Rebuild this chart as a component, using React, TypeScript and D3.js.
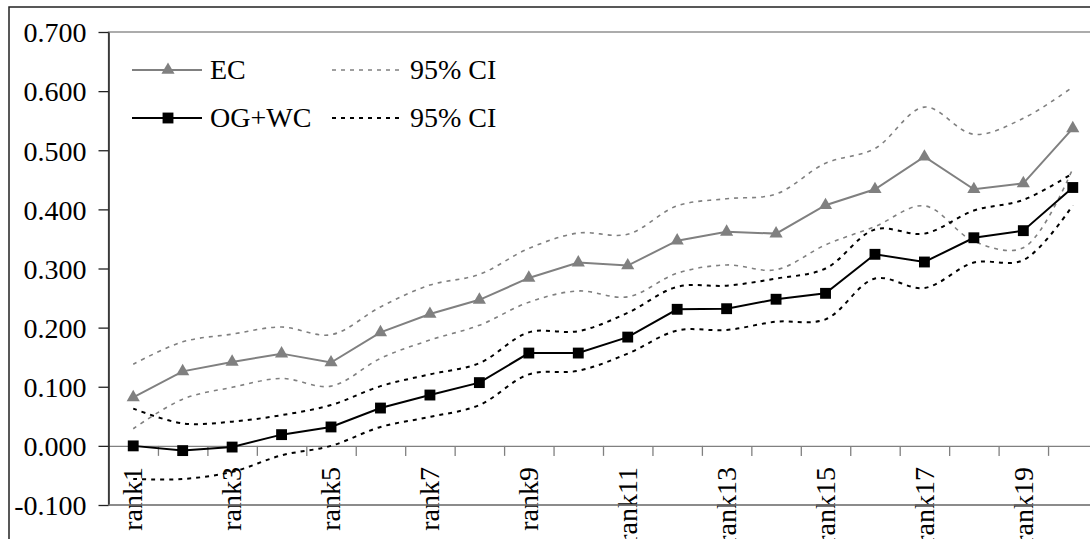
import React, { useRef, useEffect } from 'react';
import * as d3 from 'd3';

const ranks = d3.range(1, 21).map((i) => 'rank' + i);

// EC series and its 95% CI bounds
const ec = [0.082, 0.126, 0.142, 0.156, 0.141, 0.192, 0.223, 0.247, 0.284, 0.310, 0.305, 0.347, 0.362, 0.359, 0.407, 0.434, 0.489, 0.434, 0.444, 0.537];
const ecHigh = [0.138, 0.176, 0.189, 0.201, 0.188, 0.235, 0.272, 0.290, 0.334, 0.360, 0.358, 0.406, 0.418, 0.426, 0.478, 0.503, 0.573, 0.527, 0.554, 0.607];
const ecLow = [0.029, 0.079, 0.099, 0.114, 0.101, 0.148, 0.179, 0.204, 0.243, 0.262, 0.252, 0.292, 0.306, 0.298, 0.340, 0.371, 0.406, 0.346, 0.335, 0.469];

// OG+WC series and its 95% CI bounds
const ogwc = [0.000, -0.008, -0.002, 0.019, 0.032, 0.064, 0.086, 0.107, 0.157, 0.157, 0.184, 0.231, 0.232, 0.248, 0.258, 0.324, 0.311, 0.352, 0.364, 0.437];
const ogwcHigh = [0.063, 0.038, 0.041, 0.052, 0.069, 0.101, 0.121, 0.140, 0.192, 0.194, 0.225, 0.269, 0.271, 0.283, 0.300, 0.366, 0.359, 0.398, 0.416, 0.461];
const ogwcLow = [-0.056, -0.056, -0.044, -0.016, 0.000, 0.032, 0.049, 0.069, 0.121, 0.127, 0.156, 0.195, 0.196, 0.210, 0.214, 0.283, 0.267, 0.310, 0.314, 0.407];

const yTicks = [-0.1, 0, 0.1, 0.2, 0.3, 0.4, 0.5, 0.6, 0.7];
const yTickLabels = ['-0.100', '0.000', '0.100', '0.200', '0.300', '0.400', '0.500', '0.600', '0.700'];

const GRAY = '#808080';
const FONT = '"Liberation Serif", "Times New Roman", serif';

function App() {
    const svgRef = useRef(null);

    useEffect(() => {
        const svg = d3.select(svgRef.current);
        svg.selectAll('*').remove();

        const left = 108.5;
        const step = 49.45;
        const top = 32;
        const bottom = 505;

        const x = d3.scaleBand().domain(ranks).range([left, left + step * ranks.length]).padding(0);
        const xEdge = d3.scaleLinear().domain([0, ranks.length]).range([left, left + step * ranks.length]);
        const y = d3.scaleLinear().domain([-0.1, 0.7]).range([bottom, top]);
        const cx = (i) => x(ranks[i]) + x.bandwidth() / 2;

        // outer chart frame
        svg.append('rect')
            .attr('x', 9).attr('y', 7)
            .attr('width', 1100).attr('height', 560)
            .attr('fill', 'white')
            .attr('stroke', '#222').attr('stroke-width', 1.5);

        // plot area border (top / bottom / right)
        svg.append('rect')
            .attr('x', left).attr('y', top)
            .attr('width', step * ranks.length).attr('height', bottom - top)
            .attr('fill', 'none')
            .attr('stroke', GRAY).attr('stroke-width', 1.3);

        // x axis at zero with ticks between categories
        const xAxis = svg.append('g')
            .attr('transform', `translate(0,${y(0)})`)
            .call(d3.axisBottom(xEdge).tickValues(d3.range(1, ranks.length)).tickSize(10).tickSizeOuter(0).tickFormat(() => ''));
        xAxis.select('.domain').attr('stroke', GRAY).attr('stroke-width', 1.3);
        xAxis.selectAll('.tick line').attr('stroke', GRAY).attr('stroke-width', 1.3);

        // y axis
        const yAxis = svg.append('g')
            .attr('transform', `translate(${left},0)`)
            .call(d3.axisLeft(y).tickValues(yTicks).tickSize(10).tickSizeOuter(0).tickPadding(12)
                .tickFormat((d, i) => yTickLabels[i]));
        yAxis.select('.domain').attr('stroke', '#222').attr('stroke-width', 1.5);
        yAxis.selectAll('.tick line').attr('stroke', '#222').attr('stroke-width', 1.3);
        yAxis.selectAll('.tick text')
            .attr('font-family', FONT).attr('font-size', 28).attr('fill', '#000')
            .attr('dy', '0.35em');

        // category labels, every other one, rotated
        svg.append('g')
            .selectAll('text')
            .data(ranks.filter((d, i) => i % 2 === 0))
            .join('text')
            .attr('transform', (d) => `translate(${x(d) + x.bandwidth() / 2},467) rotate(-90)`)
            .attr('text-anchor', 'end')
            .attr('dy', '0.33em')
            .attr('font-family', FONT).attr('font-size', 28)
            .text((d) => d);

        // bottom border drawn over labels like the original
        svg.append('line')
            .attr('x1', left).attr('x2', left + step * ranks.length)
            .attr('y1', bottom).attr('y2', bottom)
            .attr('stroke', GRAY).attr('stroke-width', 1.3);

        const smooth = d3.line().x((d, i) => cx(i)).y((d) => y(d)).curve(d3.curveCatmullRom.alpha(0.5));
        const straight = d3.line().x((d, i) => cx(i)).y((d) => y(d));

        const ciLines = [
            { data: ecHigh, color: GRAY, w: 1.6 },
            { data: ecLow, color: GRAY, w: 1.6 },
            { data: ogwcHigh, color: '#000', w: 2 },
            { data: ogwcLow, color: '#000', w: 2 },
        ];
        ciLines.forEach((c) => {
            svg.append('path')
                .attr('d', smooth(c.data))
                .attr('fill', 'none')
                .attr('stroke', c.color).attr('stroke-width', c.w)
                .attr('stroke-dasharray', '4,5');
        });

        const tri = d3.symbol().type(d3.symbolTriangle).size(75);
        const sq = d3.symbol().type(d3.symbolSquare).size(118);

        // EC
        svg.append('path').attr('d', straight(ec)).attr('fill', 'none').attr('stroke', GRAY).attr('stroke-width', 2);
        svg.append('g').selectAll('path').data(ec).join('path')
            .attr('transform', (d, i) => `translate(${cx(i)},${y(d)})`)
            .attr('d', tri).attr('fill', GRAY);

        // OG+WC
        svg.append('path').attr('d', straight(ogwc)).attr('fill', 'none').attr('stroke', '#000').attr('stroke-width', 2);
        svg.append('g').selectAll('path').data(ogwc).join('path')
            .attr('transform', (d, i) => `translate(${cx(i)},${y(d)})`)
            .attr('d', sq).attr('fill', '#000');

        // legend
        const legend = svg.append('g').attr('font-family', FONT).attr('font-size', 28);
        const items = [
            { label: 'EC', y: 70, color: GRAY, marker: tri, dash: null, x0: 132 },
            { label: 'OG+WC', y: 118, color: '#000', marker: sq, dash: null, x0: 132 },
            { label: '95% CI', y: 70, color: GRAY, marker: null, dash: '4,5', x0: 332 },
            { label: '95% CI', y: 118, color: '#000', marker: null, dash: '4,5', x0: 332 },
        ];
        items.forEach((it) => {
            legend.append('line')
                .attr('x1', it.x0).attr('x2', it.x0 + 70)
                .attr('y1', it.y).attr('y2', it.y)
                .attr('stroke', it.color)
                .attr('stroke-width', it.dash ? (it.color === GRAY ? 1.6 : 2) : 2)
                .attr('stroke-dasharray', it.dash);
            if (it.marker) {
                legend.append('path')
                    .attr('transform', `translate(${it.x0 + 36},${it.y})`)
                    .attr('d', it.marker).attr('fill', it.color);
            }
            legend.append('text')
                .attr('x', it.x0 + 78).attr('y', it.y)
                .attr('dy', '0.33em')
                .text(it.label);
        });
    }, []);

    return (
        <div style={{ position: 'absolute', left: 0, top: 0 }}>
            <svg ref={svgRef} width={1090} height={539} style={{ display: 'block', background: 'white' }}></svg>
        </div>
    );
}

export default App;
